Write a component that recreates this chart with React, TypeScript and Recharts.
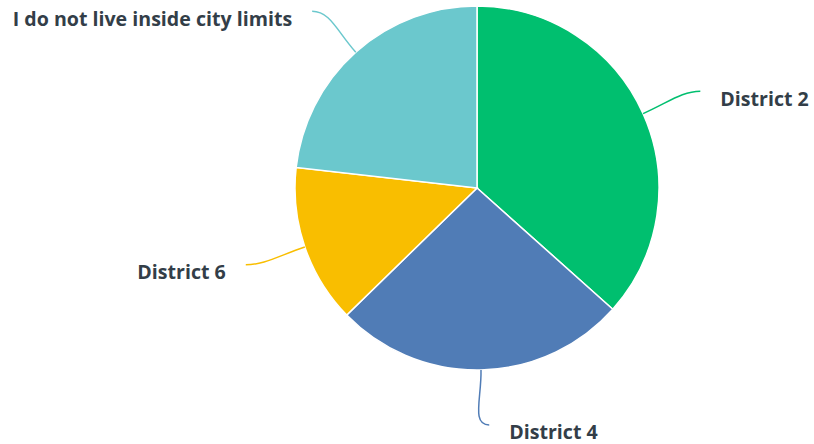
import { Pie, PieChart, Cell } from "recharts";

const categories = ["District 2", "District 4", "District 6", "I do not live inside city limits"];
const shares = [36.6, 26.1, 14.1, 23.2];
const colors = ["#00bf6f", "#507cb6", "#f9be00", "#6bc8cd"];

const data = categories.map((name, i) => ({ name, value: shares[i] }));

const RAD = Math.PI / 180;

function CurvedLabel(props: any) {
  const { cx, cy, midAngle, outerRadius, index, name } = props;
  const cos = Math.cos(-midAngle * RAD);
  const sin = Math.sin(-midAngle * RAD);
  const dir = cos >= 0 ? 1 : -1;
  const sx = cx + outerRadius * cos;
  const sy = cy + outerRadius * sin;
  const c1x = cx + (outerRadius + 28) * cos;
  const c1y = cy + (outerRadius + 28) * sin;
  const ex = cx + (outerRadius + 55) * cos + dir * 7;
  const ey = cy + (outerRadius + 55) * sin;
  const c2x = ex - dir * 18;
  const c2y = ey;
  return (
    <g>
      <path
        d={`M${sx},${sy} C${c1x},${c1y} ${c2x},${c2y} ${ex},${ey}`}
        stroke={colors[index]}
        strokeWidth={1.5}
        fill="none"
      />
      <text
        x={ex + dir * 20}
        y={ey + 7}
        textAnchor={dir > 0 ? "start" : "end"}
        dominantBaseline="central"
        fill="#333e48"
        fontSize={19.6}
        fontWeight={700}
        fontFamily="'Open Sans', 'Noto Sans', sans-serif"
      >
        {name}
      </text>
    </g>
  );
}

export default function App() {
  return (
    <div style={{ position: "fixed", left: 0, top: 0, width: 814, height: 444, background: "#fff" }}>
      <PieChart width={814} height={444} margin={{ top: 0, right: 0, bottom: 0, left: 0 }}>
        <Pie
          data={data}
          dataKey="value"
          nameKey="name"
          cx={477}
          cy={188}
          outerRadius={182}
          startAngle={90}
          endAngle={-270}
          stroke="#fff"
          strokeWidth={1.5}
          label={CurvedLabel}
          labelLine={false}
          isAnimationActive={false}
        >
          {data.map((d, i) => (
            <Cell key={d.name} fill={colors[i]} />
          ))}
        </Pie>
      </PieChart>
    </div>
  );
}
